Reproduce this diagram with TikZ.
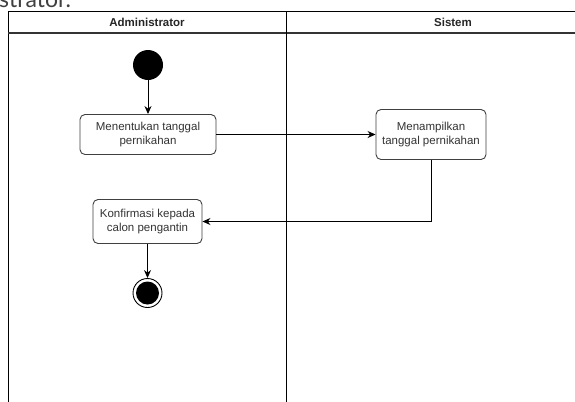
\documentclass[tikz,border=0pt]{standalone}
\usepackage{fontspec}
\setmainfont{Liberation Sans}
\newfontfamily\capfont{Lato}
\usetikzlibrary{arrows.meta}
\tikzset{
  lane/.style={draw=black, line width=0.9bp},
  lanehead/.style={font=\bfseries\fontsize{11.5bp}{13bp}\selectfont, text=black!85, inner sep=0pt},
  action/.style={draw=black!75, rounded corners=5bp, line width=0.9bp, text=black!80,
    align=center, inner sep=0pt, font=\fontsize{11.5bp}{14bp}\selectfont},
  startnode/.style={circle, fill=black, minimum size=30bp, inner sep=0pt},
  endnode/.style={circle, draw=black, line width=0.9bp, minimum size=29bp, inner sep=0pt,
    path picture={\fill (path picture bounding box.center) circle (11.5bp);}},
  flow/.style={line width=0.9bp, -{Stealth[length=8bp,width=7bp]}}
}
\begin{document}
\begin{tikzpicture}[x=1bp, y=-1bp]
	\useasboundingbox (0,0) rectangle (575,401);
	\clip (0,0) rectangle (575,401);
	\fill[white] (0,0) rectangle (575,401);
	\node[anchor=base west, inner sep=0pt, text=black!75, font=\capfont\fontsize{23bp}{26bp}\selectfont] (caption) at (-1,7.5) {strator.};
	\draw[lane] (8,405) -- (8,11) -- (580,11);
	\draw[lane, draw=black!80, line width=1.2bp] (8,33) -- (580,33);
	\draw[lane] (286,11) -- (286,405);
	\node[lanehead] (admin) at (147,22) {Administrator};
	\node[lanehead] (sistem) at (453,22) {Sistem};
	\node[startnode] (start) at (148,65) {};
	\node[action, minimum width=136bp, minimum height=40bp] (tentukan) at (148,134.5) {Menentukan tanggal\\pernikahan};
	\node[action, minimum width=110bp, minimum height=50bp] (tampil) at (431,134.5) {Menampilkan\\tanggal pernikahan};
	\node[action, minimum width=109bp, minimum height=44bp] (konfirmasi) at (147.5,221.5) {Konfirmasi kepada\\calon pengantin};
	\node[endnode] (end) at (147.5,293) {};
	\draw[flow] (start) -- (tentukan);
	\draw[flow] (tentukan) -- (tampil);
	\draw[flow] (tampil.south) |- (konfirmasi.east);
	\draw[flow] (konfirmasi) -- (end);
\end{tikzpicture}
\end{document}
